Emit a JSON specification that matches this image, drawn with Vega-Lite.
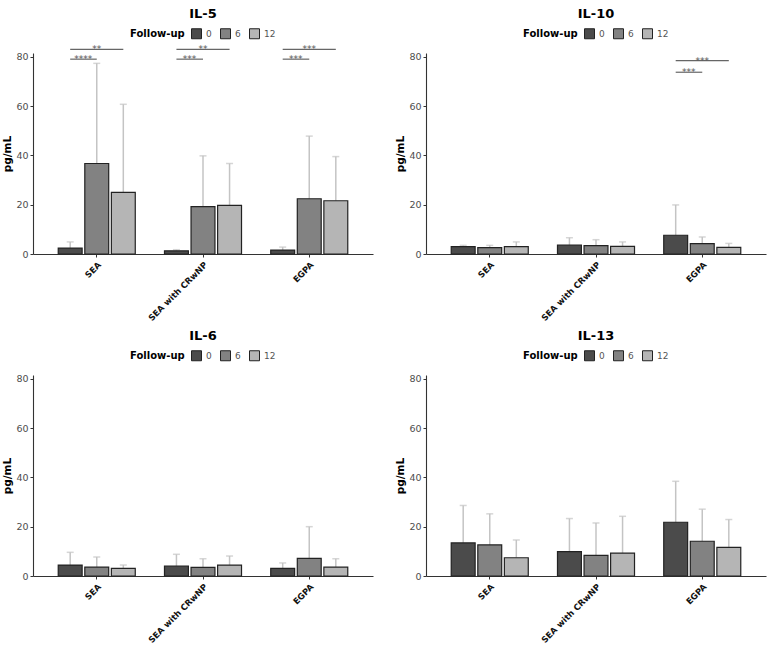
{
  "$schema": "https://vega.github.io/schema/vega-lite/v6.json",
  "padding": {"left": 2, "top": 8, "right": 4, "bottom": 0},
  "background": "white",
  "datasets": {
    "bars": [
      {"cytokine": "IL-5", "group": "SEA", "followup": "0", "mean": 2.4, "upper": 4.9},
      {"cytokine": "IL-5", "group": "SEA", "followup": "6", "mean": 36.7, "upper": 77.3},
      {"cytokine": "IL-5", "group": "SEA", "followup": "12", "mean": 25.0, "upper": 60.7},
      {"cytokine": "IL-5", "group": "SEA with CRwNP", "followup": "0", "mean": 1.3, "upper": 1.75},
      {"cytokine": "IL-5", "group": "SEA with CRwNP", "followup": "6", "mean": 19.2, "upper": 39.8},
      {"cytokine": "IL-5", "group": "SEA with CRwNP", "followup": "12", "mean": 19.7, "upper": 36.7},
      {"cytokine": "IL-5", "group": "EGPA", "followup": "0", "mean": 1.6, "upper": 2.8},
      {"cytokine": "IL-5", "group": "EGPA", "followup": "6", "mean": 22.4, "upper": 47.8},
      {"cytokine": "IL-5", "group": "EGPA", "followup": "12", "mean": 21.6, "upper": 39.5},
      {"cytokine": "IL-10", "group": "SEA", "followup": "0", "mean": 3.0, "upper": 3.5},
      {"cytokine": "IL-10", "group": "SEA", "followup": "6", "mean": 2.6, "upper": 3.5},
      {"cytokine": "IL-10", "group": "SEA", "followup": "12", "mean": 3.0, "upper": 4.9},
      {"cytokine": "IL-10", "group": "SEA with CRwNP", "followup": "0", "mean": 3.65, "upper": 6.6},
      {"cytokine": "IL-10", "group": "SEA with CRwNP", "followup": "6", "mean": 3.4, "upper": 5.8},
      {"cytokine": "IL-10", "group": "SEA with CRwNP", "followup": "12", "mean": 3.1, "upper": 4.9},
      {"cytokine": "IL-10", "group": "EGPA", "followup": "0", "mean": 7.6, "upper": 19.9},
      {"cytokine": "IL-10", "group": "EGPA", "followup": "6", "mean": 4.2, "upper": 6.9},
      {"cytokine": "IL-10", "group": "EGPA", "followup": "12", "mean": 2.7, "upper": 4.3},
      {"cytokine": "IL-6", "group": "SEA", "followup": "0", "mean": 4.45, "upper": 9.6},
      {"cytokine": "IL-6", "group": "SEA", "followup": "6", "mean": 3.6, "upper": 7.7},
      {"cytokine": "IL-6", "group": "SEA", "followup": "12", "mean": 3.1, "upper": 4.45},
      {"cytokine": "IL-6", "group": "SEA with CRwNP", "followup": "0", "mean": 4.05, "upper": 8.8},
      {"cytokine": "IL-6", "group": "SEA with CRwNP", "followup": "6", "mean": 3.5, "upper": 7.0},
      {"cytokine": "IL-6", "group": "SEA with CRwNP", "followup": "12", "mean": 4.45, "upper": 8.1},
      {"cytokine": "IL-6", "group": "EGPA", "followup": "0", "mean": 3.1, "upper": 5.3},
      {"cytokine": "IL-6", "group": "EGPA", "followup": "6", "mean": 7.15, "upper": 20.0},
      {"cytokine": "IL-6", "group": "EGPA", "followup": "12", "mean": 3.6, "upper": 7.0},
      {"cytokine": "IL-13", "group": "SEA", "followup": "0", "mean": 13.4, "upper": 28.6},
      {"cytokine": "IL-13", "group": "SEA", "followup": "6", "mean": 12.6, "upper": 25.2},
      {"cytokine": "IL-13", "group": "SEA", "followup": "12", "mean": 7.4, "upper": 14.6},
      {"cytokine": "IL-13", "group": "SEA with CRwNP", "followup": "0", "mean": 9.9, "upper": 23.3},
      {"cytokine": "IL-13", "group": "SEA with CRwNP", "followup": "6", "mean": 8.4, "upper": 21.5},
      {"cytokine": "IL-13", "group": "SEA with CRwNP", "followup": "12", "mean": 9.3, "upper": 24.2},
      {"cytokine": "IL-13", "group": "EGPA", "followup": "0", "mean": 21.8, "upper": 38.4},
      {"cytokine": "IL-13", "group": "EGPA", "followup": "6", "mean": 14.1, "upper": 27.1},
      {"cytokine": "IL-13", "group": "EGPA", "followup": "12", "mean": 11.6, "upper": 22.9}
    ],
    "brackets": [
      {"cytokine": "IL-5", "group": "SEA", "pair": "0-12", "followup": "0", "y": 83},
      {"cytokine": "IL-5", "group": "SEA", "pair": "0-12", "followup": "12", "y": 83},
      {"cytokine": "IL-5", "group": "SEA", "pair": "0-6", "followup": "0", "y": 79},
      {"cytokine": "IL-5", "group": "SEA", "pair": "0-6", "followup": "6", "y": 79},
      {"cytokine": "IL-5", "group": "SEA with CRwNP", "pair": "0-12", "followup": "0", "y": 83},
      {"cytokine": "IL-5", "group": "SEA with CRwNP", "pair": "0-12", "followup": "12", "y": 83},
      {"cytokine": "IL-5", "group": "SEA with CRwNP", "pair": "0-6", "followup": "0", "y": 79},
      {"cytokine": "IL-5", "group": "SEA with CRwNP", "pair": "0-6", "followup": "6", "y": 79},
      {"cytokine": "IL-5", "group": "EGPA", "pair": "0-12", "followup": "0", "y": 83},
      {"cytokine": "IL-5", "group": "EGPA", "pair": "0-12", "followup": "12", "y": 83},
      {"cytokine": "IL-5", "group": "EGPA", "pair": "0-6", "followup": "0", "y": 79},
      {"cytokine": "IL-5", "group": "EGPA", "pair": "0-6", "followup": "6", "y": 79},
      {"cytokine": "IL-10", "group": "EGPA", "pair": "0-12", "followup": "0", "y": 78.4},
      {"cytokine": "IL-10", "group": "EGPA", "pair": "0-12", "followup": "12", "y": 78.4},
      {"cytokine": "IL-10", "group": "EGPA", "pair": "0-6", "followup": "0", "y": 73.7},
      {"cytokine": "IL-10", "group": "EGPA", "pair": "0-6", "followup": "6", "y": 73.7}
    ],
    "stars": [
      {"cytokine": "IL-5", "group": "SEA", "pair": "0-12", "y": 83, "label": "**"},
      {"cytokine": "IL-5", "group": "SEA", "pair": "0-6", "y": 79, "label": "****"},
      {"cytokine": "IL-5", "group": "SEA with CRwNP", "pair": "0-12", "y": 83, "label": "**"},
      {"cytokine": "IL-5", "group": "SEA with CRwNP", "pair": "0-6", "y": 79, "label": "***"},
      {"cytokine": "IL-5", "group": "EGPA", "pair": "0-12", "y": 83, "label": "***"},
      {"cytokine": "IL-5", "group": "EGPA", "pair": "0-6", "y": 79, "label": "***"},
      {"cytokine": "IL-10", "group": "EGPA", "pair": "0-12", "y": 78.4, "label": "***"},
      {"cytokine": "IL-10", "group": "EGPA", "pair": "0-6", "y": 73.7, "label": "***"}
    ]
  },
  "config": {
    "font": "DejaVu Sans",
    "view": {"stroke": null},
    "title": {"fontSize": 13, "fontWeight": "bold", "color": "#000", "anchor": "middle", "offset": 7},
    "axis": {"grid": false, "domainColor": "#333", "tickColor": "#333", "tickSize": 3, "domainWidth": 1.1, "labelFont": "DejaVu Sans", "titleFont": "DejaVu Sans"},
    "legend": {
      "orient": "top",
      "direction": "horizontal",
      "titleOrient": "left",
      "titleFontSize": 10,
      "titleFontWeight": "bold",
      "titleColor": "#000",
      "titlePadding": 6,
      "labelFontSize": 9,
      "labelColor": "#555",
      "labelOffset": 4,
      "symbolType": "square",
      "symbolSize": 100,
      "symbolStrokeColor": "#222",
      "symbolStrokeWidth": 1,
      "columnPadding": 6,
      "offset": 12,
      "layout": {"top": {"anchor": "middle"}}
    }
  },
  "resolve": {"scale": {"color": "independent", "x": "independent", "y": "independent", "xOffset": "independent"}, "legend": {"color": "independent"}},
  "spacing": 7,
  "vconcat": [
    {
      "spacing": 22,
      "resolve": {"scale": {"color": "independent", "x": "independent", "y": "independent", "xOffset": "independent"}, "legend": {"color": "independent"}},
      "hconcat": [
        {
          "title": "IL-5",
          "width": 340,
          "height": 201,
          "encoding": {
            "x": {"field": "group", "type": "nominal", "scale": {"domain": ["SEA", "SEA with CRwNP", "EGPA"], "paddingInner": 0.25, "paddingOuter": 0.225}, "axis": {"title": null, "labelAngle": -45, "labelFontWeight": "bold", "labelFontSize": 8.5, "labelColor": "#111", "labelPadding": 3}},
            "xOffset": {"field": "followup", "type": "nominal", "scale": {"domain": ["0", "6", "12"], "paddingInner": 0.1, "paddingOuter": 0.05}}
          },
          "layer": [
            {"data": {"name": "bars"}, "transform": [{"filter": "datum.cytokine === 'IL-5'"}], "mark": {"type": "rule", "color": "#c4c4c4", "strokeWidth": 1.5}, "encoding": {"y": {"field": "mean", "type": "quantitative", "scale": {"domain": [0, 81.5], "nice": false}, "axis": {"values": [0, 20, 40, 60, 80], "title": "pg/mL", "titleFontWeight": "bold", "titleFontSize": 10.5, "titleColor": "#000", "labelColor": "#4d4d4d", "labelFontSize": 9.5, "titlePadding": 3}}, "y2": {"field": "upper"}}},
            {"data": {"name": "bars"}, "transform": [{"filter": "datum.cytokine === 'IL-5'"}], "mark": {"type": "tick", "color": "#c4c4c4", "size": 7, "thickness": 1.5}, "encoding": {"y": {"field": "upper", "type": "quantitative"}}},
            {"data": {"name": "bars"}, "transform": [{"filter": "datum.cytokine === 'IL-5'"}], "mark": {"type": "bar", "stroke": "#222", "strokeWidth": 1.2}, "encoding": {"y": {"field": "mean", "type": "quantitative"}, "color": {"field": "followup", "type": "nominal", "scale": {"domain": ["0", "6", "12"], "range": ["#4b4b4b", "#828282", "#b5b5b5"]}, "legend": {"title": "Follow-up", "offset": 5}}}},
            {"data": {"name": "brackets"}, "transform": [{"filter": "datum.cytokine === 'IL-5'"}], "mark": {"type": "line", "color": "#666", "strokeWidth": 1.2}, "encoding": {"y": {"field": "y", "type": "quantitative"}, "detail": [{"field": "group"}, {"field": "pair"}]}},
            {"data": {"name": "stars"}, "transform": [{"filter": "datum.cytokine === 'IL-5' && datum.pair === '0-12'"}], "mark": {"type": "text", "color": "#555", "fontSize": 9, "baseline": "alphabetic", "dy": 3}, "encoding": {"xOffset": {"datum": "6"}, "y": {"field": "y", "type": "quantitative"}, "text": {"field": "label"}}},
            {"data": {"name": "stars"}, "transform": [{"filter": "datum.cytokine === 'IL-5' && datum.pair === '0-6'"}], "mark": {"type": "text", "color": "#555", "fontSize": 9, "baseline": "alphabetic", "dy": 3, "dx": 13}, "encoding": {"xOffset": {"datum": "0"}, "y": {"field": "y", "type": "quantitative"}, "text": {"field": "label"}}}
          ]
        },
        {
          "title": "IL-10",
          "width": 340,
          "height": 201,
          "encoding": {
            "x": {"field": "group", "type": "nominal", "scale": {"domain": ["SEA", "SEA with CRwNP", "EGPA"], "paddingInner": 0.25, "paddingOuter": 0.225}, "axis": {"title": null, "labelAngle": -45, "labelFontWeight": "bold", "labelFontSize": 8.5, "labelColor": "#111", "labelPadding": 3}},
            "xOffset": {"field": "followup", "type": "nominal", "scale": {"domain": ["0", "6", "12"], "paddingInner": 0.1, "paddingOuter": 0.05}}
          },
          "layer": [
            {"data": {"name": "bars"}, "transform": [{"filter": "datum.cytokine === 'IL-10'"}], "mark": {"type": "rule", "color": "#c4c4c4", "strokeWidth": 1.5}, "encoding": {"y": {"field": "mean", "type": "quantitative", "scale": {"domain": [0, 81.5], "nice": false}, "axis": {"values": [0, 20, 40, 60, 80], "title": "pg/mL", "titleFontWeight": "bold", "titleFontSize": 10.5, "titleColor": "#000", "labelColor": "#4d4d4d", "labelFontSize": 9.5, "titlePadding": 3}}, "y2": {"field": "upper"}}},
            {"data": {"name": "bars"}, "transform": [{"filter": "datum.cytokine === 'IL-10'"}], "mark": {"type": "tick", "color": "#c4c4c4", "size": 7, "thickness": 1.5}, "encoding": {"y": {"field": "upper", "type": "quantitative"}}},
            {"data": {"name": "bars"}, "transform": [{"filter": "datum.cytokine === 'IL-10'"}], "mark": {"type": "bar", "stroke": "#222", "strokeWidth": 1.2}, "encoding": {"y": {"field": "mean", "type": "quantitative"}, "color": {"field": "followup", "type": "nominal", "scale": {"domain": ["0", "6", "12"], "range": ["#4b4b4b", "#828282", "#b5b5b5"]}, "legend": {"title": "Follow-up"}}}},
            {"data": {"name": "brackets"}, "transform": [{"filter": "datum.cytokine === 'IL-10'"}], "mark": {"type": "line", "color": "#666", "strokeWidth": 1.2}, "encoding": {"y": {"field": "y", "type": "quantitative"}, "detail": [{"field": "group"}, {"field": "pair"}]}},
            {"data": {"name": "stars"}, "transform": [{"filter": "datum.cytokine === 'IL-10' && datum.pair === '0-12'"}], "mark": {"type": "text", "color": "#555", "fontSize": 9, "baseline": "alphabetic", "dy": 3}, "encoding": {"xOffset": {"datum": "6"}, "y": {"field": "y", "type": "quantitative"}, "text": {"field": "label"}}},
            {"data": {"name": "stars"}, "transform": [{"filter": "datum.cytokine === 'IL-10' && datum.pair === '0-6'"}], "mark": {"type": "text", "color": "#555", "fontSize": 9, "baseline": "alphabetic", "dy": 3, "dx": 13}, "encoding": {"xOffset": {"datum": "0"}, "y": {"field": "y", "type": "quantitative"}, "text": {"field": "label"}}}
          ]
        }
      ]
    },
    {
      "spacing": 22,
      "resolve": {"scale": {"color": "independent", "x": "independent", "y": "independent", "xOffset": "independent"}, "legend": {"color": "independent"}},
      "hconcat": [
        {
          "title": "IL-6",
          "width": 340,
          "height": 201,
          "encoding": {
            "x": {"field": "group", "type": "nominal", "scale": {"domain": ["SEA", "SEA with CRwNP", "EGPA"], "paddingInner": 0.25, "paddingOuter": 0.225}, "axis": {"title": null, "labelAngle": -45, "labelFontWeight": "bold", "labelFontSize": 8.5, "labelColor": "#111", "labelPadding": 3}},
            "xOffset": {"field": "followup", "type": "nominal", "scale": {"domain": ["0", "6", "12"], "paddingInner": 0.1, "paddingOuter": 0.05}}
          },
          "layer": [
            {"data": {"name": "bars"}, "transform": [{"filter": "datum.cytokine === 'IL-6'"}], "mark": {"type": "rule", "color": "#c4c4c4", "strokeWidth": 1.5}, "encoding": {"y": {"field": "mean", "type": "quantitative", "scale": {"domain": [0, 81.5], "nice": false}, "axis": {"values": [0, 20, 40, 60, 80], "title": "pg/mL", "titleFontWeight": "bold", "titleFontSize": 10.5, "titleColor": "#000", "labelColor": "#4d4d4d", "labelFontSize": 9.5, "titlePadding": 3}}, "y2": {"field": "upper"}}},
            {"data": {"name": "bars"}, "transform": [{"filter": "datum.cytokine === 'IL-6'"}], "mark": {"type": "tick", "color": "#c4c4c4", "size": 7, "thickness": 1.5}, "encoding": {"y": {"field": "upper", "type": "quantitative"}}},
            {"data": {"name": "bars"}, "transform": [{"filter": "datum.cytokine === 'IL-6'"}], "mark": {"type": "bar", "stroke": "#222", "strokeWidth": 1.2}, "encoding": {"y": {"field": "mean", "type": "quantitative"}, "color": {"field": "followup", "type": "nominal", "scale": {"domain": ["0", "6", "12"], "range": ["#4b4b4b", "#828282", "#b5b5b5"]}, "legend": {"title": "Follow-up"}}}}
          ]
        },
        {
          "title": "IL-13",
          "width": 340,
          "height": 201,
          "encoding": {
            "x": {"field": "group", "type": "nominal", "scale": {"domain": ["SEA", "SEA with CRwNP", "EGPA"], "paddingInner": 0.25, "paddingOuter": 0.225}, "axis": {"title": null, "labelAngle": -45, "labelFontWeight": "bold", "labelFontSize": 8.5, "labelColor": "#111", "labelPadding": 3}},
            "xOffset": {"field": "followup", "type": "nominal", "scale": {"domain": ["0", "6", "12"], "paddingInner": 0.1, "paddingOuter": 0.05}}
          },
          "layer": [
            {"data": {"name": "bars"}, "transform": [{"filter": "datum.cytokine === 'IL-13'"}], "mark": {"type": "rule", "color": "#c4c4c4", "strokeWidth": 1.5}, "encoding": {"y": {"field": "mean", "type": "quantitative", "scale": {"domain": [0, 81.5], "nice": false}, "axis": {"values": [0, 20, 40, 60, 80], "title": "pg/mL", "titleFontWeight": "bold", "titleFontSize": 10.5, "titleColor": "#000", "labelColor": "#4d4d4d", "labelFontSize": 9.5, "titlePadding": 3}}, "y2": {"field": "upper"}}},
            {"data": {"name": "bars"}, "transform": [{"filter": "datum.cytokine === 'IL-13'"}], "mark": {"type": "tick", "color": "#c4c4c4", "size": 7, "thickness": 1.5}, "encoding": {"y": {"field": "upper", "type": "quantitative"}}},
            {"data": {"name": "bars"}, "transform": [{"filter": "datum.cytokine === 'IL-13'"}], "mark": {"type": "bar", "stroke": "#222", "strokeWidth": 1.2}, "encoding": {"y": {"field": "mean", "type": "quantitative"}, "color": {"field": "followup", "type": "nominal", "scale": {"domain": ["0", "6", "12"], "range": ["#4b4b4b", "#828282", "#b5b5b5"]}, "legend": {"title": "Follow-up"}}}}
          ]
        }
      ]
    }
  ]
}
